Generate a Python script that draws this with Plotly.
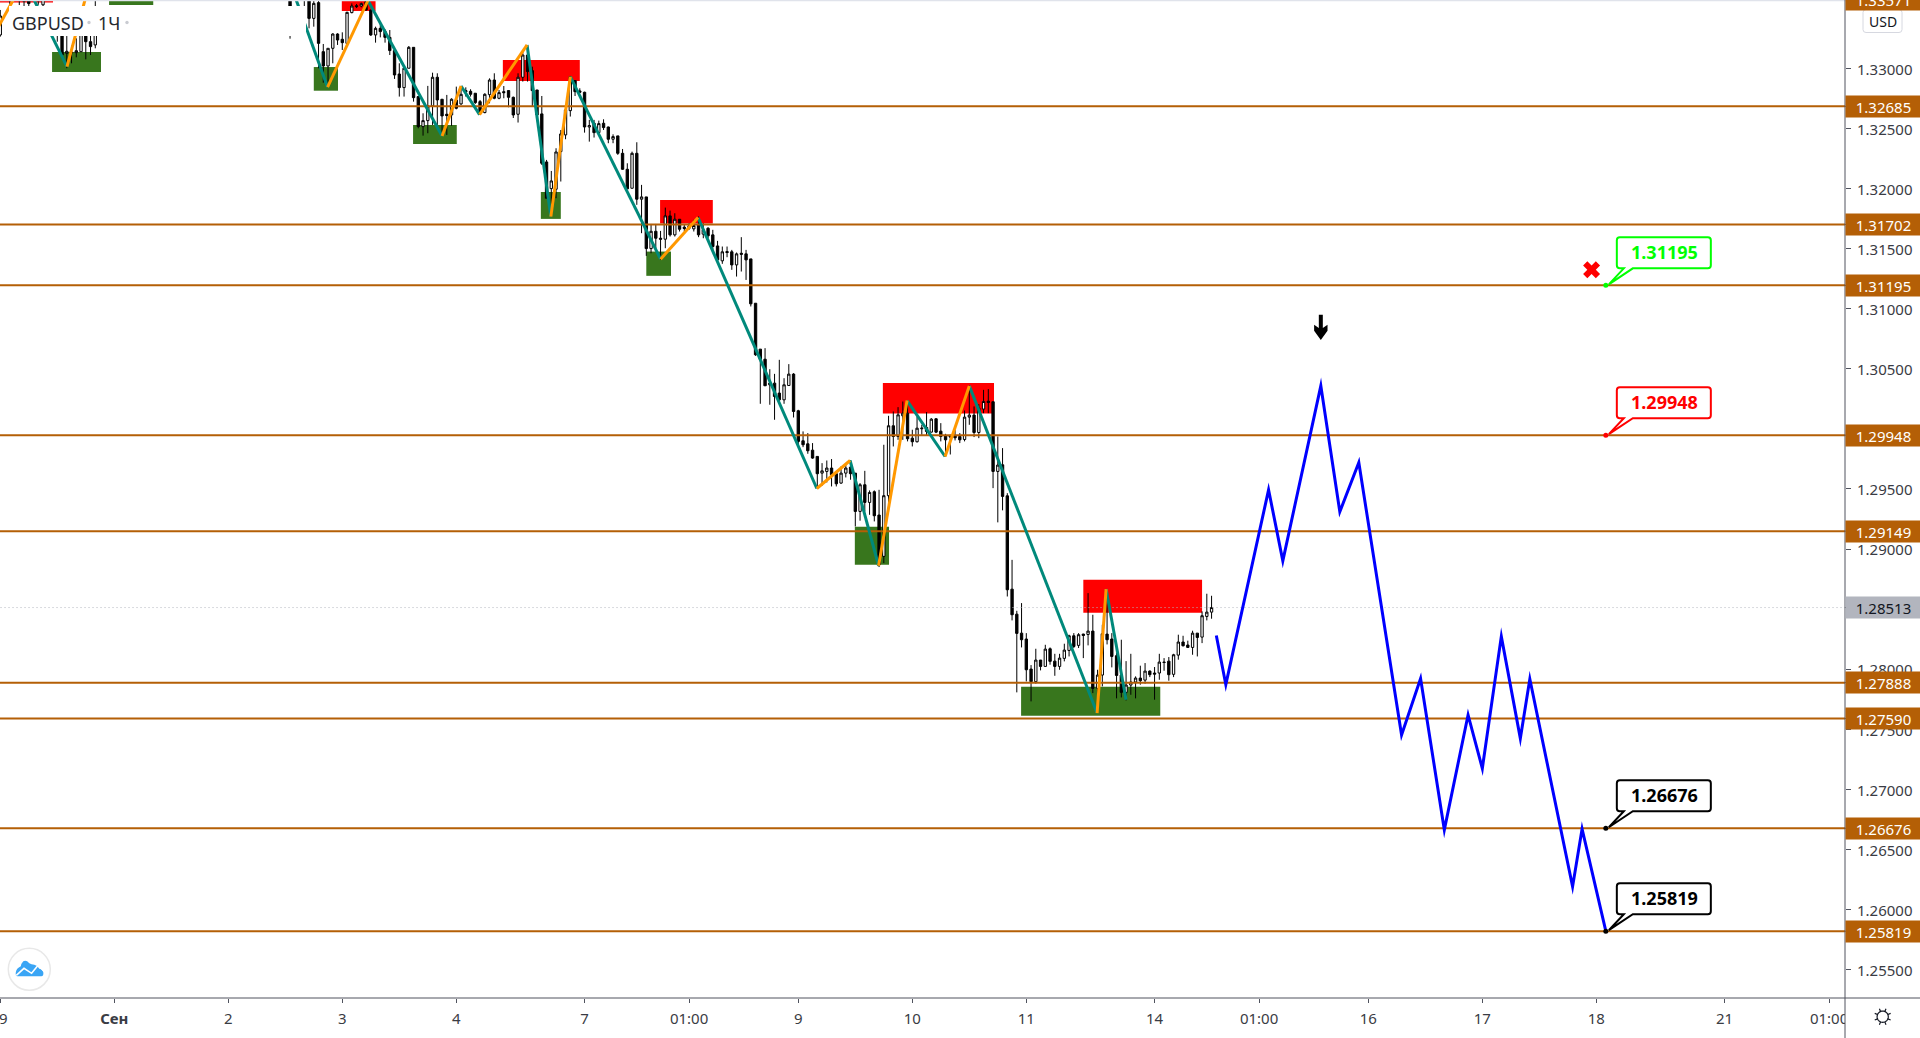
import math
import plotly.graph_objects as go

# ---------- data (prices in 1e-5 units, bars are hourly bar numbers) ----------
bars = [0, 2, 4, 5, 6, 8, 9, 12, 13, 14, 15, 16, 17, 18, 19, 20, 61] + list(range(64, 256))
opens = [133279, 133750, 133750, 133750, 133750, 133750, 133530, 133450, 133404, 133126, 133130, 133132, 133140, 133270, 133223, 133196, 133700,
 133800, 133800,
 133417, 133548, 133140, 133021, 133168, 133287, 133243, 133209, 133465, 133523, 133520, 133556, 133487, 133279, 133334, 133307, 133259, 133149,
 132954, 132841, 133002, 133176, 132766, 132516, 132566, 132688, 132927, 132744, 132619, 132613, 132738, 132705, 132816, 132810, 132794, 132724,
 132633, 132782, 132904, 132752, 132807, 132816, 132760, 132619, 132927, 133112, 132982, 132821, 132622, 132222, 132000, 131995, 132308, 132447,
 132649, 132899, 132813, 132802, 132513, 132544, 132466, 132544, 132513, 132411, 132439, 132294, 132161, 132003, 132294, 131912, 131931, 131501,
 131645, 131587, 131579, 131773, 131615, 131745, 131679, 131670, 131665, 131704, 131621, 131670, 131615, 131523, 131399, 131476, 131474, 131365,
 131462, 131457, 131415, 131046, 130664, 130580, 130367, 130381, 130298, 130242, 130361, 130456, 130151, 129901, 129876, 129823, 129771, 129632,
 129646, 129674, 129627, 129549, 129632, 129682, 129632, 129313, 129535, 129388, 129477, 129283, 128939, 129444, 130026, 129937, 130109, 130131,
 129923, 129893, 130001, 130012, 129973, 130084, 129981, 129943, 129943, 129943, 129937, 129912, 130098, 130115, 129970, 130165, 130231, 130226,
 129646, 129701, 129443, 128666, 128458, 128300, 128251, 128001, 127896, 128076, 128023, 128170, 128067, 128023, 128090, 128156, 128278, 128198,
 128292, 128289, 128317, 127840, 127951, 128292, 128251, 128112, 127951, 127807, 127868, 127893, 127926, 127909, 127984, 127968, 127968, 128059,
 128067, 127957, 128117, 128226, 128201, 128181, 128300, 128267, 128439, 128475]
highs = [133487, 133800, 133800, 133800, 133800, 133800, 133800, 133480, 133450, 133270, 133190, 133251, 133340, 133320, 133300, 133800, 133800,
 133850, 133850,
 133562, 133562, 133204, 133168, 133293, 133293, 133301, 133473, 133542, 133537, 133548, 133562, 133487, 133348, 133390, 133326, 133320, 133154,
 133043, 133015, 133187, 133176, 132766, 132627, 132855, 132965, 132960, 132744, 132780, 132752, 132849, 132855, 132843, 132827, 132794, 132738,
 132794, 132918, 132960, 132821, 132854, 132816, 132766, 132960, 133154, 133154, 133015, 132821, 132771, 132239, 132147, 132336, 132488, 132660,
 132938, 132904, 132835, 132807, 132572, 132572, 132566, 132577, 132516, 132452, 132439, 132330, 132211, 132308, 132386, 132031, 131931, 131706,
 131706, 131648, 131842, 131817, 131795, 131745, 131698, 131712, 131740, 131768, 131712, 131679, 131657, 131565, 131518, 131518, 131490, 131468,
 131596, 131490, 131415, 131046, 130664, 130672, 130497, 130458, 130575, 130422, 130539, 130464, 130159, 129979, 129965, 129882, 129771, 129715,
 129737, 129749, 129646, 129688, 129715, 129737, 129632, 129549, 129651, 129488, 129488, 129493, 129868, 130109, 130145, 130181, 130228, 130228,
 129993, 130103, 130034, 130140, 130090, 130090, 130048, 129959, 129951, 129990, 129965, 130153, 130359, 130187, 130206, 130325, 130331, 130226,
 129937, 129840, 129465, 128910, 128486, 128550, 128300, 128034, 128170, 128076, 128203, 128181, 128128, 128128, 128212, 128287, 128300, 128300,
 128295, 128633, 128453, 127995, 128370, 128605, 128300, 128134, 128245, 128067, 128128, 127940, 128029, 128051, 127990, 128018, 128128, 128092,
 128101, 128128, 128287, 128278, 128237, 128320, 128300, 128481, 128628, 128611]
lows = [133265, 133528, 133528, 133520, 133520, 133530, 133520, 133223, 133085, 133002, 133043, 133093, 133140, 133076, 133112, 133168, 133248,
 133520, 133334,
 133348, 133002, 132882, 132863, 133043, 133196, 133154, 133196, 133459, 133503, 133509, 133481, 133271, 133215, 133259, 133215, 133112, 132913,
 132766, 132766, 133002, 132724, 132502, 132441, 132461, 132530, 132530, 132447, 132447, 132522, 132660, 132697, 132766, 132766, 132705, 132613,
 132627, 132710, 132744, 132744, 132752, 132677, 132588, 132550, 132891, 132891, 132683, 132600, 132197, 131920, 131768, 131920, 132059, 132411,
 132600, 132771, 132794, 132466, 132391, 132425, 132461, 132488, 132378, 132378, 132281, 132156, 131998, 132003, 131865, 131629, 131440, 131462,
 131504, 131407, 131504, 131601, 131601, 131643, 131643, 131657, 131643, 131596, 131587, 131587, 131490, 131401, 131374, 131429, 131324, 131268,
 131310, 131240, 131019, 130608, 130209, 130359, 130201, 130076, 130228, 130209, 130361, 130095, 129854, 129848, 129793, 129751, 129507, 129527,
 129554, 129521, 129521, 129543, 129596, 129577, 129188, 129236, 129313, 129285, 129230, 128850, 128883, 129341, 129854, 129909, 129909, 129896,
 129854, 129887, 129951, 129945, 129970, 129965, 129896, 129771, 129787, 129904, 129882, 129896, 130034, 129932, 129923, 130131, 130131, 129507,
 129222, 129322, 128605, 128406, 127807, 128181, 127898, 127732, 127879, 127990, 128023, 128037, 127945, 127995, 128065, 128106, 128176, 128176,
 128092, 128198, 127801, 127635, 127857, 128206, 128015, 127757, 127765, 127740, 127787, 127757, 127871, 127879, 127934, 127746, 127912, 127987,
 127904, 127934, 128079, 128189, 128176, 128120, 128106, 128217, 128406, 128420]
closes = [133437, 133720, 133720, 133560, 133540, 133700, 133750, 133400, 133112, 133143, 133135, 133148, 133293, 133223, 133182, 133293, 133520,
 133750, 133417,
 133542, 133209, 133021, 133168, 133287, 133237, 133215, 133467, 133520, 133515, 133540, 133487, 133279, 133334, 133307, 133259, 133149, 132946,
 132841, 133002, 133176, 132757, 132516, 132566, 132688, 132927, 132738, 132605, 132608, 132744, 132669, 132785, 132805, 132785, 132716, 132627,
 132785, 132904, 132752, 132799, 132799, 132760, 132613, 132927, 133112, 132974, 132816, 132613, 132211, 131920, 132064, 132305, 132455, 132655,
 132932, 132807, 132802, 132513, 132525, 132466, 132541, 132508, 132411, 132433, 132294, 132161, 131998, 132294, 131912, 131931, 131501, 131645,
 131587, 131579, 131773, 131615, 131745, 131662, 131668, 131690, 131693, 131615, 131657, 131607, 131518, 131407, 131474, 131468, 131365, 131457,
 131454, 131407, 131041, 130617, 130580, 130359, 130381, 130270, 130242, 130367, 130456, 130145, 129896, 129868, 129818, 129757, 129627, 129651,
 129674, 129618, 129543, 129632, 129674, 129627, 129313, 129535, 129388, 129471, 129277, 128870, 129444, 130026, 129937, 130117, 130131, 129918,
 129893, 130006, 130006, 129979, 130081, 129973, 129937, 129909, 129932, 129926, 129909, 130098, 130115, 129970, 130173, 130228, 130220, 129646,
 129699, 129438, 128661, 128453, 128298, 128245, 127995, 127896, 128076, 128023, 128167, 128065, 128023, 128092, 128159, 128278, 128189, 128287,
 128281, 128317, 127840, 127951, 128295, 128245, 128106, 127948, 127807, 127868, 127893, 127926, 127904, 127984, 127954, 127959, 128059, 128056,
 127954, 128120, 128226, 128195, 128181, 128300, 128264, 128445, 128475, 128513]

level_prices = [132685, 131702, 131195, 129948, 129149, 127888, 127590, 126676, 125819]
top_level = "1.33571"
last_price = 128513

# supply / demand zones: first bar, last bar, upper price, lower price
red_bar0 = [-1, 71.9, 105.8, 138.9, 185.8, 228.0]
red_bar1 = [11.1, 79.0, 122.0, 150.0, 209.2, 253.0]
red_top = [133800, 133800, 133071, 131906, 130383, 128744]
red_bot = [133549, 133478, 132896, 131709, 130128, 128470]
green_bar0 = [22.9, 10.9, 66.0, 86.9, 113.8, 136.0, 179.9, 214.9]
green_bar1 = [32.2, 21.2, 71.1, 96.1, 118.0, 141.2, 187.1, 244.2]
green_top = [133800, 133137, 133012, 132530, 131972, 131476, 129185, 127854]
green_bot = [133528, 132971, 132815, 132372, 131748, 131274, 128869, 127613]

# zigzag pivots
zz_bar = [-1, 5.05, 14.04, 20.1, 58.9, 68.9, 77.4, 93.0, 97.0, 100.9, 110.9, 115.9, 120.0, 139.0, 146.9,
          171.9, 178.9, 184.9, 190.9, 198.9, 204.0, 230.9, 232.8, 237.0]
zz_price = [133304, 133736, 133015, 133903, 133944, 132844, 133566, 132438, 132854, 132616, 133196, 131767,
            132932, 131413, 131759, 129504, 129737, 128861, 130236, 129770, 130358, 127635, 128667, 127746]

# forecast path
fc_bar = [256, 258, 267, 270, 278, 282, 286, 295, 299, 304, 309, 312, 316, 320, 322, 331, 333, 338]
fc_price = [128281, 127871, 129493, 128902, 130358, 129310, 129720, 127452, 127923, 126662, 127619,
            127174, 128273, 127424, 127918, 126190, 126670, 125819]

# targets with callouts
target_bar = 338
target_prices = [131195, 129948, 126676, 125819]
target_colors = ["#00ff00", "#ff0000", "#000000", "#000000"]
x_mark = (335, 131324)
arrow_mark = (278, 130739)

x_tick_bars = [0, 24, 48, 72, 96, 123, 145, 168, 192, 216, 243, 265, 288, 312, 336, 363, 385]
x_tick_text = ["", "<b>Сен</b>", "2", "3", "4", "7", "01:00", "9", "10", "11", "14", "01:00", "16", "17", "18", "21", "01:00"]
y_tick_vals = [1.255, 1.26, 1.265, 1.27, 1.275, 1.28, 1.285, 1.29, 1.295, 1.30, 1.305, 1.31, 1.315, 1.32, 1.325, 1.33, 1.335]
y_tick_hidden = [1.30]

# ---------- styling ----------
FONT = "Noto Sans"
W, H = 1920, 1038
PW, PH = 1845, 998
LINE = "#50535e"
ORANGE = "#b45f06"
TXT = "#3a3c44"
P = lambda v: v / 100000


def px(x):
    return x / PW


def py(y):
    return 1 - y / PH


shapes = []
annos = []

# zones
for b0, b1, t, m in zip(red_bar0, red_bar1, red_top, red_bot):
    shapes.append(dict(type="rect", layer="below", xref="x", yref="y", x0=b0, x1=b1, y0=P(t), y1=P(m),
                       fillcolor="#ff0000", line_width=0))
for b0, b1, t, m in zip(green_bar0, green_bar1, green_top, green_bot):
    shapes.append(dict(type="rect", layer="below", xref="x", yref="y", x0=b0, x1=b1, y0=P(t), y1=P(m),
                       fillcolor="#38761d", line_width=0))

# legend mask, top hairline
shapes.append(dict(type="rect", xref="paper", yref="paper", x0=px(9), x1=px(306), y0=py(6), y1=py(36),
                   fillcolor="white", line_width=0))
shapes.append(dict(type="rect", xref="paper", yref="paper", x0=0, x1=W / PW, y0=py(0), y1=py(1.3),
                   fillcolor="#e0e3eb", line_width=0))

# bottom right cell + axis lines
shapes.append(dict(type="rect", xref="paper", yref="paper", x0=1, x1=W / PW, y0=0, y1=-40 / PH,
                   fillcolor="white", line_width=0))
shapes.append(dict(type="line", xref="paper", yref="paper", x0=1, x1=1, y0=-40 / PH, y1=1, line=dict(color=LINE, width=1)))
shapes.append(dict(type="line", xref="paper", yref="paper", x0=0, x1=W / PW, y0=0, y1=0, line=dict(color=LINE, width=1)))

# callouts
box = "M 3,1 L 27,17 L 102,17 Q 105,17 105,20 L 105,45 Q 105,48 102,48 L 14,48 Q 11,48 11,45 L 11,20 Q 11,17 14,17 L 18,17 Z"
for p, c in zip(target_prices, target_colors):
    shapes.append(dict(type="path", xref="x", yref="y", xsizemode="pixel", ysizemode="pixel",
                       xanchor=target_bar, yanchor=P(p), path=box, fillcolor="white", line=dict(color=c, width=2)))
    annos.append(dict(x=target_bar, y=P(p), xref="x", yref="y", xshift=58.5, yshift=33.5, showarrow=False,
                      text=f"<b>{P(p):.5f}</b>", font=dict(family=FONT, size=18, color=c)))

# arrow above the forecast peak
shapes.append(dict(type="path", xref="x", yref="y", xsizemode="pixel", ysizemode="pixel",
                   xanchor=arrow_mark[0], yanchor=P(arrow_mark[1]),
                   path="M 0,0 L -6.7,9.3 L -6.7,15.3 L -2,12 L -2,25.3 L 2,25.3 L 2,12 L 6.7,15.3 L 6.7,9.3 Z",
                   fillcolor="black", line_width=0))

# price labels
for p in level_prices:
    annos.append(dict(x=1, xref="paper", xanchor="left", y=P(p), yref="y", yanchor="middle", showarrow=False,
                      width=75, height=21, align="center", valign="middle", bgcolor=ORANGE, borderpad=0,
                      text=f"{P(p):.5f}", font=dict(family=FONT, size=15, color="white")))
annos.append(dict(x=1, xref="paper", xanchor="left", y=1, yref="paper", yanchor="middle", yshift=1, showarrow=False,
                  width=75, height=21, align="center", valign="middle", bgcolor=ORANGE, borderpad=0,
                  text=top_level, font=dict(family=FONT, size=15, color="white")))
annos.append(dict(x=1, xref="paper", xanchor="left", y=P(last_price), yref="y", yanchor="middle", showarrow=False,
                  width=75, height=21, align="center", valign="middle", bgcolor="#b2b5be", borderpad=0,
                  text=f"{P(last_price):.5f}", font=dict(family=FONT, size=15, color="#131722")))
for p in level_prices + [last_price]:
    shapes.append(dict(type="line", xref="paper", yref="y", x0=1, x1=1 + 5 / PW, y0=P(p), y1=P(p),
                       line=dict(color=LINE, width=1)))

# USD button
shapes.append(dict(type="path", xref="paper", yref="paper", xsizemode="pixel", ysizemode="pixel", xanchor=1, yanchor=1,
                   path="M 21,-9.5 L 54,-9.5 Q 57,-9.5 57,-12.5 L 57,-29.5 Q 57,-32.5 54,-32.5 L 21,-32.5 Q 18,-32.5 18,-29.5 L 18,-12.5 Q 18,-9.5 21,-9.5 Z",
                   fillcolor="white", line=dict(color="#d6d8e0", width=1)))
annos.append(dict(x=1, xref="paper", xanchor="center", y=1, yref="paper", yanchor="middle", xshift=37.5, yshift=-21,
                  showarrow=False, text="USD", font=dict(family=FONT, size=14, color="#131722")))

# legend text
annos.append(dict(x=px(11), xref="paper", xanchor="left", y=py(22.5), yref="paper", yanchor="middle", showarrow=False,
                  text="GBPUSD", font=dict(family=FONT, size=18, color="#26282e"), borderpad=0))
annos.append(dict(x=px(97), xref="paper", xanchor="left", y=py(22.5), yref="paper", yanchor="middle", showarrow=False,
                  text="1Ч", font=dict(family=FONT, size=18, color="#26282e"), borderpad=0))
for cx in (89, 127):
    shapes.append(dict(type="circle", xref="paper", yref="paper", xsizemode="pixel", ysizemode="pixel",
                       xanchor=px(cx), yanchor=py(22.5), x0=-1.7, x1=1.7, y0=-1.7, y1=1.7,
                       fillcolor="#c9cbd1", line_width=0))

# first date label, half cut by the left edge
annos.append(dict(x=0, xref="paper", xanchor="center", y=0, yref="paper", yanchor="middle", xshift=3.5, yshift=-20,
                  showarrow=False, text="9", font=dict(family=FONT, size=15, color=TXT)))

# logo
shapes.append(dict(type="circle", xref="paper", yref="paper", xsizemode="pixel", ysizemode="pixel",
                   xanchor=px(29.3), yanchor=py(969.3), x0=-21, x1=21, y0=-21, y1=21,
                   fillcolor="white", line=dict(color="#e8e8e8", width=1.5)))
shapes.append(dict(type="path", xref="paper", yref="paper", xsizemode="pixel", ysizemode="pixel",
                   xanchor=px(29.3), yanchor=py(969.3),
                   path="M -12,-7 L 12,-7 Q 14.5,-7 14,-3 Q 13.5,0 10,0.5 Q 8,4 5,4.5 Q 2,5 0,6 Q -3,9.5 -6,8 Q -8,6 -8.5,3 Q -13,1 -13.5,-3 Q -14,-7 -12,-7 Z",
                   fillcolor="#3aa5f5", line_width=0))
shapes.append(dict(type="path", xref="paper", yref="paper", xsizemode="pixel", ysizemode="pixel",
                   xanchor=px(29.3), yanchor=py(969.3),
                   path="M -13,-6 L -5.3,1 L 2.3,-4 L 9,4.3 L 15,-2.5",
                   line=dict(color="white", width=1.6)))

# gear icon
gear = " ".join(
    ("M " if k % 2 == 0 else "L ") + f"{r * math.cos(a):.2f},{r * math.sin(a):.2f}"
    for j in range(8)
    for a in [j * math.pi / 4 + math.pi / 8]
    for k, r in enumerate((5.6, 8.6))
)
ring = "M 5.6,0 " + " ".join(f"L {5.6 * math.cos(a * math.pi / 18):.2f},{5.6 * math.sin(a * math.pi / 18):.2f}" for a in range(1, 36)) + " Z"
for pth in (ring, gear):
    shapes.append(dict(type="path", xref="paper", yref="paper", xsizemode="pixel", ysizemode="pixel",
                       xanchor=1 + 37.7 / PW, yanchor=-18.7 / PH, path=pth, line=dict(color="#131722", width=1.2)))

# ---------- traces ----------
fig = go.Figure()
fig.add_trace(go.Candlestick(
    x=bars, open=[P(v) for v in opens], high=[P(v) for v in highs], low=[P(v) for v in lows], close=[P(v) for v in closes],
    increasing=dict(line=dict(color="black", width=1), fillcolor="white"),
    decreasing=dict(line=dict(color="black", width=1), fillcolor="black"),
    whiskerwidth=0, hoverinfo="skip", showlegend=False))

fig.add_trace(go.Scatter(x=[-5, 395], y=[P(last_price)] * 2, mode="lines", hoverinfo="skip",
                         line=dict(color="#b2b5be", width=1, dash="1px,3px"), showlegend=False))
for p in level_prices:
    fig.add_trace(go.Scatter(x=[-5, 395], y=[P(p)] * 2, mode="lines", hoverinfo="skip",
                             line=dict(color=ORANGE, width=2), showlegend=False))

tx, ty, ox, oy = [], [], [], []
for k in range(len(zz_bar) - 1):
    xs = [zz_bar[k], zz_bar[k + 1], None]
    ys = [P(zz_price[k]), P(zz_price[k + 1]), None]
    if zz_price[k + 1] < zz_price[k]:
        tx += xs
        ty += ys
    else:
        ox += xs
        oy += ys
fig.add_trace(go.Scatter(x=tx, y=ty, mode="lines", hoverinfo="skip", line=dict(color="#00897b", width=3), showlegend=False))
fig.add_trace(go.Scatter(x=ox, y=oy, mode="lines", hoverinfo="skip", line=dict(color="#ff9800", width=3), showlegend=False))
fig.add_trace(go.Scatter(x=fc_bar, y=[P(v) for v in fc_price], mode="lines", hoverinfo="skip",
                         line=dict(color="#0000ff", width=3), showlegend=False))
fig.add_trace(go.Scatter(x=[x_mark[0]], y=[P(x_mark[1])], mode="markers", hoverinfo="skip",
                         marker=dict(symbol="x", size=15, color="#ff0000", line_width=0), showlegend=False))
fig.add_trace(go.Scatter(x=[target_bar] * 4, y=[P(v) for v in target_prices], mode="markers", hoverinfo="skip",
                         marker=dict(size=5, color=target_colors, line_width=0), showlegend=False))

fig.update_layout(
    width=W, height=H, margin=dict(l=0, r=W - PW, t=0, b=H - PH),
    paper_bgcolor="white", plot_bgcolor="white", showlegend=False,
    shapes=shapes, annotations=annos, hovermode=False,
    xaxis=dict(range=[-0.06, 388.35], rangeslider_visible=False, showgrid=False, zeroline=False,
               tickmode="array", tickvals=x_tick_bars, ticktext=x_tick_text,
               ticks="outside", ticklen=4, tickcolor=LINE, showline=False, ticklabelstandoff=3,
               tickfont=dict(family=FONT, size=15, color=TXT)),
    yaxis=dict(range=[1.25263, 1.33570], side="right", showgrid=False, zeroline=False, showline=False,
               tickmode="array", tickvals=y_tick_vals,
               ticktext=["" if v in y_tick_hidden else f"{v:.5f}" for v in y_tick_vals],
               ticks="outside", ticklen=5, tickcolor=LINE,
               ticklabelstandoff=3, tickfont=dict(family=FONT, size=15, color=TXT)),
)

fig.write_html("out.html", config=dict(displayModeBar=False),
               post_script="document.body.style.margin='0';document.body.style.overflow='hidden';"
                           "document.querySelectorAll('.js-line').forEach(function(e){e.style.strokeLinejoin='miter';e.style.strokeMiterlimit='10';});"
                           "document.querySelectorAll('.ytick text').forEach(function(t){t.setAttribute('y',parseFloat(t.getAttribute('y'))+1);});")
